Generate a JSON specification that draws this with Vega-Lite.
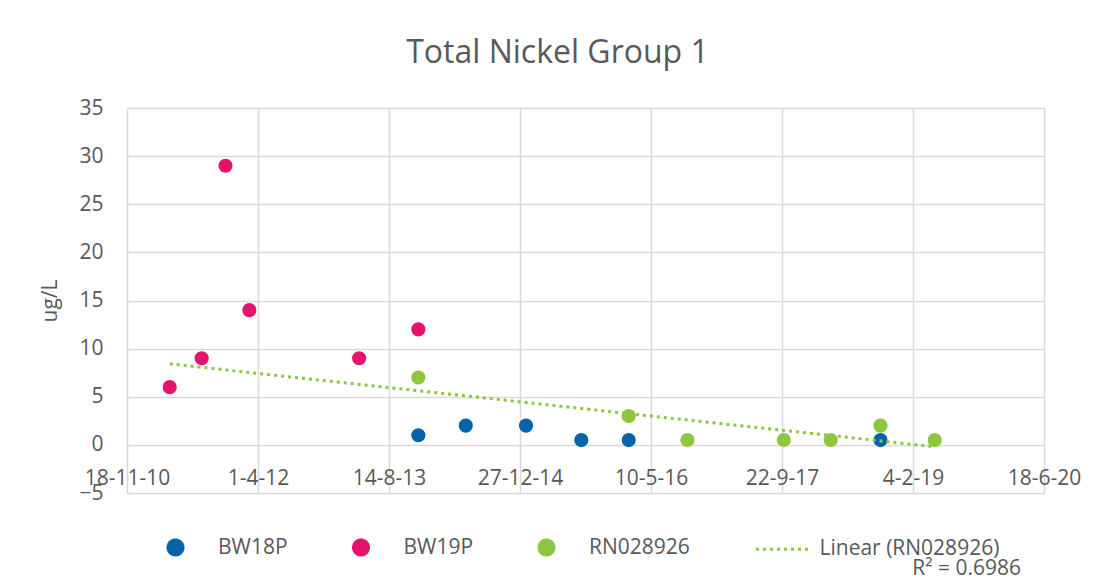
{
  "$schema": "https://vega.github.io/schema/vega-lite/v6.json",
  "autosize": "none",
  "width": 917,
  "height": 385,
  "padding": {"left": 127, "top": 108, "right": 63, "bottom": 88},
  "background": "white",
  "title": {
    "text": "Total Nickel Group 1",
    "font": "Open Sans",
    "fontSize": 32,
    "fontWeight": "normal",
    "color": "#595959",
    "anchor": "middle",
    "frame": "group",
    "dx": -28,
    "baseline": "alphabetic",
    "offset": 2
  },
  "data": {
    "values": [
      {"date": "2011-04-30T00:00:00", "value": 6, "series": "BW19P"},
      {"date": "2011-08-30T00:00:00", "value": 9, "series": "BW19P"},
      {"date": "2011-11-29T00:00:00", "value": 29, "series": "BW19P"},
      {"date": "2012-02-28T00:00:00", "value": 14, "series": "BW19P"},
      {"date": "2013-04-22T00:00:00", "value": 9, "series": "BW19P"},
      {"date": "2013-12-04T00:00:00", "value": 12, "series": "BW19P"},
      {"date": "2013-12-04T00:00:00", "value": 1, "series": "BW18P"},
      {"date": "2014-06-03T00:00:00", "value": 2, "series": "BW18P"},
      {"date": "2015-01-19T00:00:00", "value": 2, "series": "BW18P"},
      {"date": "2015-08-18T00:00:00", "value": 0.5, "series": "BW18P"},
      {"date": "2016-02-15T00:00:00", "value": 0.5, "series": "BW18P"},
      {"date": "2018-10-03T00:00:00", "value": 0.5, "series": "BW18P"},
      {"date": "2013-12-04T00:00:00", "value": 7, "series": "RN028926"},
      {"date": "2016-02-15T00:00:00", "value": 3, "series": "RN028926"},
      {"date": "2016-09-26T00:00:00", "value": 0.5, "series": "RN028926"},
      {"date": "2017-09-29T00:00:00", "value": 0.5, "series": "RN028926"},
      {"date": "2018-03-27T00:00:00", "value": 0.5, "series": "RN028926"},
      {"date": "2018-10-03T00:00:00", "value": 2, "series": "RN028926"},
      {"date": "2019-04-28T00:00:00", "value": 0.5, "series": "RN028926"},
      {"date": "2011-04-30T00:00:00", "value": 8.42, "series": "Linear (RN028926)"},
      {"date": "2019-04-28T00:00:00", "value": -0.2, "series": "Linear (RN028926)"}
    ]
  },
  "encoding": {
    "x": {
      "field": "date",
      "type": "temporal",
      "scale": {
        "domain": [{"year": 2010, "month": 11, "date": 18}, {"year": 2020, "month": 6, "date": 18}],
        "nice": false
      },
      "axis": {
        "title": null,
        "values": [
          {"year": 2010, "month": 11, "date": 18},
          {"year": 2012, "month": 4, "date": 1},
          {"year": 2013, "month": 8, "date": 14},
          {"year": 2014, "month": 12, "date": 27},
          {"year": 2016, "month": 5, "date": 10},
          {"year": 2017, "month": 9, "date": 22},
          {"year": 2019, "month": 2, "date": 4},
          {"year": 2020, "month": 6, "date": 18}
        ],
        "format": "%-d-%-m-%y",
        "grid": true,
        "domain": false,
        "ticks": false,
        "tickSize": 0,
        "labelBaseline": "alphabetic",
        "labelPadding": -9,
        "labelFlush": false,
        "labelOverlap": false
      }
    },
    "y": {
      "field": "value",
      "type": "quantitative",
      "scale": {"domain": [-5, 35], "nice": false, "zero": false},
      "axis": {
        "title": "ug/L",
        "values": [-5, 0, 5, 10, 15, 20, 25, 30, 35],
        "grid": true,
        "domain": false,
        "ticks": false,
        "tickSize": 0,
        "labelPadding": 24,
        "titlePadding": 18,
        "labelOverlap": false
      }
    },
    "color": {
      "field": "series",
      "type": "nominal",
      "scale": {
        "domain": ["BW18P", "BW19P", "RN028926", "Linear (RN028926)"],
        "range": ["#0563A7", "#E6136A", "#8DC63F", "#8DC63F"]
      },
      "legend": {
        "orient": "none",
        "legendX": 38,
        "legendY": 429,
        "direction": "horizontal",
        "columns": 4,
        "columnPadding": 59.5,
        "labelOffset": 32,
        "labelLimit": 400,
        "symbolSize": 225,
        "title": "R² = 0.6986",
        "titleOrient": "bottom",
        "titleAnchor": "end",
        "titleAlign": "right",
        "titleBaseline": "top",
        "titlePadding": -3,
        "encode": {
          "symbols": {
            "update": {
              "stroke": {"signal": "datum.value === 'Linear (RN028926)' ? '#8DC63F' : 'transparent'"},
              "strokeWidth": {"value": 3},
              "strokeDash": {"signal": "datum.value === 'Linear (RN028926)' ? [3, 4] : [1, 0]"},
              "size": {"signal": "datum.value === 'Linear (RN028926)' ? 3136 : 225"}
            }
          },
          "labels": {
            "update": {
              "dx": {"signal": "datum.value === 'Linear (RN028926)' ? -7 : 0"}
            }
          },
          "title": {
            "update": {
              "dx": {"value": 22}
            }
          }
        }
      }
    },
    "shape": {
      "field": "series",
      "type": "nominal",
      "scale": {
        "domain": ["BW18P", "BW19P", "RN028926", "Linear (RN028926)"],
        "range": ["circle", "circle", "circle", "stroke"]
      },
      "legend": {
        "orient": "none",
        "legendX": 38,
        "legendY": 429,
        "direction": "horizontal",
        "columns": 4,
        "columnPadding": 59.5,
        "labelOffset": 32,
        "labelLimit": 400,
        "symbolSize": 225,
        "title": "R² = 0.6986",
        "titleOrient": "bottom",
        "titleAnchor": "end",
        "titleAlign": "right",
        "titleBaseline": "top",
        "titlePadding": -3
      }
    }
  },
  "layer": [
    {
      "transform": [{"filter": "datum.series !== 'Linear (RN028926)'"}],
      "mark": {"type": "point", "filled": true, "opacity": 1, "size": 200}
    },
    {
      "transform": [{"filter": "datum.series === 'Linear (RN028926)'"}],
      "mark": {"type": "line", "strokeWidth": 3, "strokeDash": [3, 4]},
      "encoding": {"shape": null}
    }
  ],
  "config": {
    "view": {"stroke": null},
    "font": "Open Sans",
    "axis": {
      "labelFont": "Open Sans",
      "labelFontSize": 21,
      "labelColor": "#595959",
      "titleFont": "Open Sans",
      "titleFontSize": 21,
      "titleFontWeight": "normal",
      "titleColor": "#595959",
      "gridColor": "#d9d9d9",
      "gridWidth": 1.5
    },
    "legend": {
      "labelFont": "Open Sans",
      "labelFontSize": 21,
      "labelColor": "#595959",
      "titleFont": "Open Sans",
      "titleFontSize": 21,
      "titleFontWeight": "normal",
      "titleColor": "#595959",
      "padding": 0
    }
  }
}
